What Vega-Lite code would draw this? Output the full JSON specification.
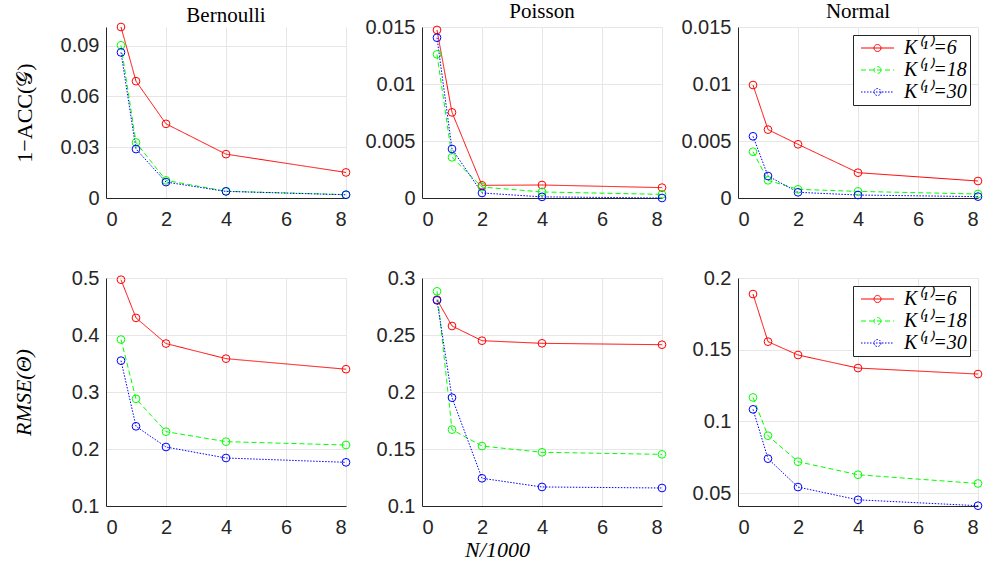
{
  "$schema": "https://vega.github.io/schema/vega-lite/v6.json",
  "background": "white",
  "padding": {"left": 11, "top": 1, "right": 5, "bottom": 5},
  "datasets": {
    "d": [
      {"d":"Bernoulli","m":"acc","k":"6","x":0.5,"y":0.101},{"d":"Bernoulli","m":"acc","k":"6","x":1,"y":0.069},{"d":"Bernoulli","m":"acc","k":"6","x":2,"y":0.0438},{"d":"Bernoulli","m":"acc","k":"6","x":4,"y":0.0259},{"d":"Bernoulli","m":"acc","k":"6","x":8,"y":0.0151},
      {"d":"Bernoulli","m":"acc","k":"18","x":0.5,"y":0.0902},{"d":"Bernoulli","m":"acc","k":"18","x":1,"y":0.0328},{"d":"Bernoulli","m":"acc","k":"18","x":2,"y":0.0104},{"d":"Bernoulli","m":"acc","k":"18","x":4,"y":0.0040},{"d":"Bernoulli","m":"acc","k":"18","x":8,"y":0.0020},
      {"d":"Bernoulli","m":"acc","k":"30","x":0.5,"y":0.086},{"d":"Bernoulli","m":"acc","k":"30","x":1,"y":0.0289},{"d":"Bernoulli","m":"acc","k":"30","x":2,"y":0.0094},{"d":"Bernoulli","m":"acc","k":"30","x":4,"y":0.0039},{"d":"Bernoulli","m":"acc","k":"30","x":8,"y":0.0019},
      {"d":"Poisson","m":"acc","k":"6","x":0.5,"y":0.01474},{"d":"Poisson","m":"acc","k":"6","x":1,"y":0.00751},{"d":"Poisson","m":"acc","k":"6","x":2,"y":0.00111},{"d":"Poisson","m":"acc","k":"6","x":4,"y":0.00114},{"d":"Poisson","m":"acc","k":"6","x":8,"y":0.00091},
      {"d":"Poisson","m":"acc","k":"18","x":0.5,"y":0.0126},{"d":"Poisson","m":"acc","k":"18","x":1,"y":0.00357},{"d":"Poisson","m":"acc","k":"18","x":2,"y":0.00096},{"d":"Poisson","m":"acc","k":"18","x":4,"y":0.00053},{"d":"Poisson","m":"acc","k":"18","x":8,"y":0.00032},
      {"d":"Poisson","m":"acc","k":"30","x":0.5,"y":0.01406},{"d":"Poisson","m":"acc","k":"30","x":1,"y":0.0043},{"d":"Poisson","m":"acc","k":"30","x":2,"y":0.00044},{"d":"Poisson","m":"acc","k":"30","x":4,"y":0.0001},{"d":"Poisson","m":"acc","k":"30","x":8,"y":0.0},
      {"d":"Normal","m":"acc","k":"6","x":0.5,"y":0.00991},{"d":"Normal","m":"acc","k":"6","x":1,"y":0.0060},{"d":"Normal","m":"acc","k":"6","x":2,"y":0.00471},{"d":"Normal","m":"acc","k":"6","x":4,"y":0.00222},{"d":"Normal","m":"acc","k":"6","x":8,"y":0.00149},
      {"d":"Normal","m":"acc","k":"18","x":0.5,"y":0.00406},{"d":"Normal","m":"acc","k":"18","x":1,"y":0.00155},{"d":"Normal","m":"acc","k":"18","x":2,"y":0.00076},{"d":"Normal","m":"acc","k":"18","x":4,"y":0.00058},{"d":"Normal","m":"acc","k":"18","x":8,"y":0.00035},
      {"d":"Normal","m":"acc","k":"30","x":0.5,"y":0.00541},{"d":"Normal","m":"acc","k":"30","x":1,"y":0.00193},{"d":"Normal","m":"acc","k":"30","x":2,"y":0.0005},{"d":"Normal","m":"acc","k":"30","x":4,"y":0.00026},{"d":"Normal","m":"acc","k":"30","x":8,"y":0.00012},
      {"d":"Bernoulli","m":"rmse","k":"6","x":0.5,"y":0.497},{"d":"Bernoulli","m":"rmse","k":"6","x":1,"y":0.430},{"d":"Bernoulli","m":"rmse","k":"6","x":2,"y":0.385},{"d":"Bernoulli","m":"rmse","k":"6","x":4,"y":0.3585},{"d":"Bernoulli","m":"rmse","k":"6","x":8,"y":0.340},
      {"d":"Bernoulli","m":"rmse","k":"18","x":0.5,"y":0.392},{"d":"Bernoulli","m":"rmse","k":"18","x":1,"y":0.288},{"d":"Bernoulli","m":"rmse","k":"18","x":2,"y":0.2304},{"d":"Bernoulli","m":"rmse","k":"18","x":4,"y":0.2129},{"d":"Bernoulli","m":"rmse","k":"18","x":8,"y":0.207},
      {"d":"Bernoulli","m":"rmse","k":"30","x":0.5,"y":0.355},{"d":"Bernoulli","m":"rmse","k":"30","x":1,"y":0.2398},{"d":"Bernoulli","m":"rmse","k":"30","x":2,"y":0.2035},{"d":"Bernoulli","m":"rmse","k":"30","x":4,"y":0.1842},{"d":"Bernoulli","m":"rmse","k":"30","x":8,"y":0.1766},
      {"d":"Poisson","m":"rmse","k":"6","x":0.5,"y":0.281},{"d":"Poisson","m":"rmse","k":"6","x":1,"y":0.2579},{"d":"Poisson","m":"rmse","k":"6","x":2,"y":0.245},{"d":"Poisson","m":"rmse","k":"6","x":4,"y":0.2427},{"d":"Poisson","m":"rmse","k":"6","x":8,"y":0.2415},
      {"d":"Poisson","m":"rmse","k":"18","x":0.5,"y":0.2883},{"d":"Poisson","m":"rmse","k":"18","x":1,"y":0.167},{"d":"Poisson","m":"rmse","k":"18","x":2,"y":0.1526},{"d":"Poisson","m":"rmse","k":"18","x":4,"y":0.1471},{"d":"Poisson","m":"rmse","k":"18","x":8,"y":0.1453},
      {"d":"Poisson","m":"rmse","k":"30","x":0.5,"y":0.2804},{"d":"Poisson","m":"rmse","k":"30","x":1,"y":0.195},{"d":"Poisson","m":"rmse","k":"30","x":2,"y":0.1243},{"d":"Poisson","m":"rmse","k":"30","x":4,"y":0.1167},{"d":"Poisson","m":"rmse","k":"30","x":8,"y":0.1158},
      {"d":"Normal","m":"rmse","k":"6","x":0.5,"y":0.1888},{"d":"Normal","m":"rmse","k":"6","x":1,"y":0.1556},{"d":"Normal","m":"rmse","k":"6","x":2,"y":0.1463},{"d":"Normal","m":"rmse","k":"6","x":4,"y":0.1372},{"d":"Normal","m":"rmse","k":"6","x":8,"y":0.1330},
      {"d":"Normal","m":"rmse","k":"18","x":0.5,"y":0.1167},{"d":"Normal","m":"rmse","k":"18","x":1,"y":0.090},{"d":"Normal","m":"rmse","k":"18","x":2,"y":0.0719},{"d":"Normal","m":"rmse","k":"18","x":4,"y":0.0628},{"d":"Normal","m":"rmse","k":"18","x":8,"y":0.0567},
      {"d":"Normal","m":"rmse","k":"30","x":0.5,"y":0.1084},{"d":"Normal","m":"rmse","k":"30","x":1,"y":0.0740},{"d":"Normal","m":"rmse","k":"30","x":2,"y":0.0542},{"d":"Normal","m":"rmse","k":"30","x":4,"y":0.0453},{"d":"Normal","m":"rmse","k":"30","x":8,"y":0.0412}
    ]
  },
  "data": {"name": "d"},
  "columns": 3,
  "bounds": "flush",
  "spacing": {"row": 80, "column": 76},
  "resolve": {"legend": {"color": "independent", "strokeDash": "independent"}},
  "concat": [
    {
      "width": 240, "height": 171,
      "title": "Bernoulli",
      "transform": [{"filter": "datum.d == 'Bernoulli' && datum.m == 'acc'"}],
      "encoding": {
        "x": {"field": "x", "type": "quantitative", "scale": {"domain": [0, 8], "nice": false}, "axis": {"values": [0, 2, 4, 6, 8], "title": null}},
        "y": {"field": "y", "type": "quantitative", "scale": {"domain": [0, 0.101], "nice": false, "zero": false}, "axis": {"values": [0, 0.03, 0.06, 0.09], "format": ".3~g", "title": "1−ACC(𝒢)", "titleX": -82, "titleBaseline": "middle"}},
        "color": {"field": "k", "type": "nominal", "scale": {"domain": ["6", "18", "30"], "range": ["#ff0000", "#00ff00", "#0000ff"]}, "legend": null}
      },
      "layer": [
        {"mark": {"type": "line", "strokeWidth": 1}, "encoding": {"strokeDash": {"field": "k", "type": "nominal", "scale": {"domain": ["6", "18", "30"], "range": [[1, 0], [5, 3], [1.5, 1.5]]}, "legend": null}}},
        {"mark": {"type": "point", "size": 60, "strokeWidth": 1, "filled": false, "opacity": 1}}
      ]
    },
    {
      "width": 240, "height": 171,
      "title": "Poisson",
      "transform": [{"filter": "datum.d == 'Poisson' && datum.m == 'acc'"}],
      "encoding": {
        "x": {"field": "x", "type": "quantitative", "scale": {"domain": [0, 8], "nice": false}, "axis": {"values": [0, 2, 4, 6, 8], "title": null}},
        "y": {"field": "y", "type": "quantitative", "scale": {"domain": [0, 0.015], "nice": false, "zero": false}, "axis": {"values": [0, 0.005, 0.01, 0.015], "format": ".3~g", "title": null}},
        "color": {"field": "k", "type": "nominal", "scale": {"domain": ["6", "18", "30"], "range": ["#ff0000", "#00ff00", "#0000ff"]}, "legend": null}
      },
      "layer": [
        {"mark": {"type": "line", "strokeWidth": 1}, "encoding": {"strokeDash": {"field": "k", "type": "nominal", "scale": {"domain": ["6", "18", "30"], "range": [[1, 0], [5, 3], [1.5, 1.5]]}, "legend": null}}},
        {"mark": {"type": "point", "size": 60, "strokeWidth": 1, "filled": false, "opacity": 1}}
      ]
    },
    {
      "width": 240, "height": 171,
      "title": "Normal",
      "transform": [{"filter": "datum.d == 'Normal' && datum.m == 'acc'"}],
      "encoding": {
        "x": {"field": "x", "type": "quantitative", "scale": {"domain": [0, 8], "nice": false}, "axis": {"values": [0, 2, 4, 6, 8], "title": null}},
        "y": {"field": "y", "type": "quantitative", "scale": {"domain": [0, 0.015], "nice": false, "zero": false}, "axis": {"values": [0, 0.005, 0.01, 0.015], "format": ".3~g", "title": null}},
        "color": {"field": "k", "type": "nominal", "scale": {"domain": ["6", "18", "30"], "range": ["#ff0000", "#00ff00", "#0000ff"]}, "legend": {"orient": "top-right", "title": null, "labelExpr": "'K⁽¹⁾=' + datum.label", "symbolType": "M-1,0L5.6,0M3,0A0.7,0.7,0,1,1,1.6,0A0.7,0.7,0,1,1,3,0", "symbolSize": 100, "labelOffset": 28}}
      },
      "layer": [
        {"mark": {"type": "line", "strokeWidth": 1}, "encoding": {"strokeDash": {"field": "k", "type": "nominal", "scale": {"domain": ["6", "18", "30"], "range": [[1, 0], [5, 3], [1.5, 1.5]]}, "legend": {"orient": "top-right", "title": null, "labelExpr": "'K⁽¹⁾=' + datum.label", "symbolType": "M-1,0L5.6,0M3,0A0.7,0.7,0,1,1,1.6,0A0.7,0.7,0,1,1,3,0", "symbolSize": 100, "labelOffset": 28}}}},
        {"mark": {"type": "point", "size": 60, "strokeWidth": 1, "filled": false, "opacity": 1}}
      ]
    },
    {
      "width": 240, "height": 228,
      "transform": [{"filter": "datum.d == 'Bernoulli' && datum.m == 'rmse'"}],
      "encoding": {
        "x": {"field": "x", "type": "quantitative", "scale": {"domain": [0, 8], "nice": false}, "axis": {"values": [0, 2, 4, 6, 8], "title": null}},
        "y": {"field": "y", "type": "quantitative", "scale": {"domain": [0.1, 0.5], "nice": false, "zero": false}, "axis": {"values": [0.1, 0.2, 0.3, 0.4, 0.5], "format": ".3~g", "title": "RMSE(Θ)", "titleFontStyle": "italic", "titleX": -83, "titleBaseline": "middle"}},
        "color": {"field": "k", "type": "nominal", "scale": {"domain": ["6", "18", "30"], "range": ["#ff0000", "#00ff00", "#0000ff"]}, "legend": null}
      },
      "layer": [
        {"mark": {"type": "line", "strokeWidth": 1}, "encoding": {"strokeDash": {"field": "k", "type": "nominal", "scale": {"domain": ["6", "18", "30"], "range": [[1, 0], [5, 3], [1.5, 1.5]]}, "legend": null}}},
        {"mark": {"type": "point", "size": 60, "strokeWidth": 1, "filled": false, "opacity": 1}}
      ]
    },
    {
      "width": 240, "height": 228,
      "transform": [{"filter": "datum.d == 'Poisson' && datum.m == 'rmse'"}],
      "encoding": {
        "x": {"field": "x", "type": "quantitative", "scale": {"domain": [0, 8], "nice": false}, "axis": {"values": [0, 2, 4, 6, 8], "title": "N/1000", "titleFontStyle": "italic", "titleX": 75, "titleY": 33}},
        "y": {"field": "y", "type": "quantitative", "scale": {"domain": [0.1, 0.3], "nice": false, "zero": false}, "axis": {"values": [0.1, 0.15, 0.2, 0.25, 0.3], "format": ".3~g", "title": null}},
        "color": {"field": "k", "type": "nominal", "scale": {"domain": ["6", "18", "30"], "range": ["#ff0000", "#00ff00", "#0000ff"]}, "legend": null}
      },
      "layer": [
        {"mark": {"type": "line", "strokeWidth": 1}, "encoding": {"strokeDash": {"field": "k", "type": "nominal", "scale": {"domain": ["6", "18", "30"], "range": [[1, 0], [5, 3], [1.5, 1.5]]}, "legend": null}}},
        {"mark": {"type": "point", "size": 60, "strokeWidth": 1, "filled": false, "opacity": 1}}
      ]
    },
    {
      "width": 240, "height": 228,
      "transform": [{"filter": "datum.d == 'Normal' && datum.m == 'rmse'"}],
      "encoding": {
        "x": {"field": "x", "type": "quantitative", "scale": {"domain": [0, 8], "nice": false}, "axis": {"values": [0, 2, 4, 6, 8], "title": null}},
        "y": {"field": "y", "type": "quantitative", "scale": {"domain": [0.041, 0.2], "nice": false, "zero": false}, "axis": {"values": [0.05, 0.1, 0.15, 0.2], "format": ".3~g", "title": null}},
        "color": {"field": "k", "type": "nominal", "scale": {"domain": ["6", "18", "30"], "range": ["#ff0000", "#00ff00", "#0000ff"]}, "legend": {"orient": "top-right", "title": null, "labelExpr": "'K⁽¹⁾=' + datum.label", "symbolType": "M-1,0L5.6,0M3,0A0.7,0.7,0,1,1,1.6,0A0.7,0.7,0,1,1,3,0", "symbolSize": 100, "labelOffset": 28}}
      },
      "layer": [
        {"mark": {"type": "line", "strokeWidth": 1}, "encoding": {"strokeDash": {"field": "k", "type": "nominal", "scale": {"domain": ["6", "18", "30"], "range": [[1, 0], [5, 3], [1.5, 1.5]]}, "legend": {"orient": "top-right", "title": null, "labelExpr": "'K⁽¹⁾=' + datum.label", "symbolType": "M-1,0L5.6,0M3,0A0.7,0.7,0,1,1,1.6,0A0.7,0.7,0,1,1,3,0", "symbolSize": 100, "labelOffset": 28}}}},
        {"mark": {"type": "point", "size": 60, "strokeWidth": 1, "filled": false, "opacity": 1}}
      ]
    }
  ],
  "config": {
    "view": {"stroke": null},
    "axis": {
      "labelFont": "Liberation Sans", "labelFontSize": 20, "labelColor": "#262626",
      "domainColor": "#262626", "domainWidth": 1,
      "gridColor": "#e6e6e6", "gridWidth": 1,
      "ticks": false, "tickSize": 0,
      "titleFont": "Liberation Serif", "titleFontSize": 22, "titleFontWeight": "normal", "titleColor": "#000000"
    },
    "axisX": {"labelPadding": 11},
    "axisY": {"labelPadding": 7},
    "legend": {
      "labelFont": "Liberation Serif", "labelFontSize": 20, "labelFontStyle": "italic", "labelColor": "#000000",
      "symbolStrokeWidth": 1, "symbolFillColor": "transparent",
      "strokeColor": "#262626", "fillColor": "white",
      "padding": 3, "rowPadding": 2, "offset": 8, "labelLimit": 200
    },
    "title": {"font": "Liberation Serif", "fontSize": 21, "fontWeight": "normal", "color": "#000000", "offset": -5}
  }
}
